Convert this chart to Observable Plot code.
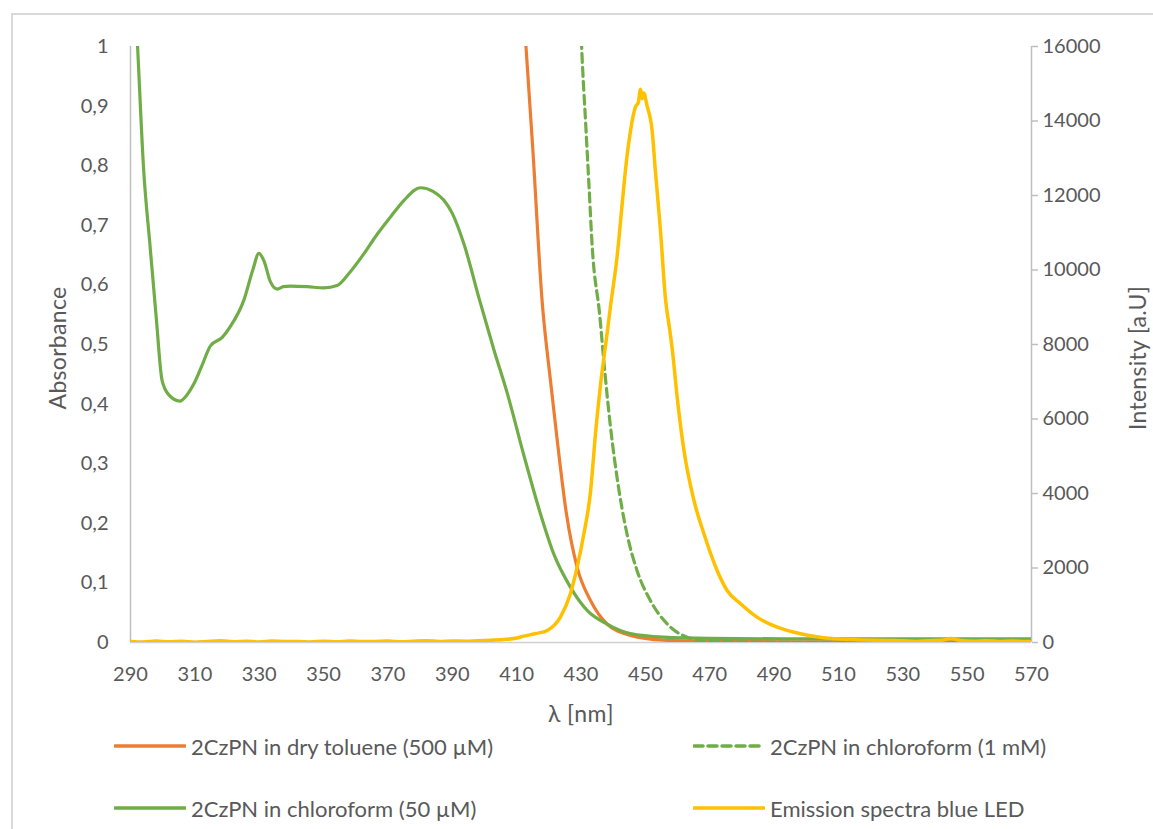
<!DOCTYPE html>
<html>
<head>
<meta charset="utf-8">
<script src="https://cdn.jsdelivr.net/npm/d3@7"></script>
<script src="https://cdn.jsdelivr.net/npm/@observablehq/plot@0.6"></script>
<style>
  html, body { margin: 0; padding: 0; background: #fff; overflow: hidden; }
  #wrap { position: relative; width: 1153px; height: 829px; font-family: Lato, "Open Sans", sans-serif; color: #595959; }
  #border { position: absolute; left: 11px; top: 13px; width: 1300px; height: 1000px; border-left: 2px solid #d9d9d9; border-top: 2px solid #d9d9d9; }
  #chart { position: absolute; left: 0; top: 0; }
  .atitle { position: absolute; font-size: 23px; white-space: nowrap; letter-spacing: 0.3px; }
  .leg { position: absolute; font-size: 22px; white-space: nowrap; display: flex; align-items: center; }
  .leg svg { margin-right: 5px; }
</style>
</head>
<body>
<div id="wrap">
  <div id="border"></div>
  <div id="chart"></div>
</div>
<script>
// ---- data ----
const xTicks = [290, 310, 330, 350, 370, 390, 410, 430, 450, 470, 490, 510, 530, 550, 570];
const yTicks = [0, 0.1, 0.2, 0.3, 0.4, 0.5, 0.6, 0.7, 0.8, 0.9, 1];
const y2Ticks = [0, 2000, 4000, 6000, 8000, 10000, 12000, 14000, 16000];

const seriesNames = ["2CzPN in dry toluene (500 µM)", "2CzPN in chloroform (1 mM)", "2CzPN in chloroform (50 µM)", "Emission spectra blue LED"];

// 2CzPN in dry toluene (500 µM) – absorbance
const tolWl  = [411, 412.9, 415, 417.9, 420.5, 422.6, 425.5, 428.8, 433.0, 438.1, 445.4, 455.7, 470, 500, 570];
const tolAbs = [1.17, 1.0, 0.83, 0.574, 0.44, 0.34, 0.215, 0.126, 0.07, 0.031, 0.012, 0.004, 0.002, 0.001, 0.001];

// 2CzPN in chloroform (1 mM) – absorbance
const c1Wl  = [429, 430.2, 431.4, 432.4, 433.5, 435.8, 437.3, 439.2, 441.2, 444.3, 447.4, 451.6, 456.8, 463.0, 470, 500, 570];
const c1Abs = [1.2, 1.0, 0.876, 0.775, 0.663, 0.55, 0.46, 0.36, 0.277, 0.182, 0.121, 0.07, 0.031, 0.009, 0.002, 0.0, 0.0];

// 2CzPN in chloroform (50 µM) – absorbance
const c50Wl  = [291, 292.2, 294.1, 296, 298, 299.8, 302, 305.3, 307.5, 309.7, 312, 314.9, 318.5, 321, 325.2, 328, 329.9, 331.5, 333.5, 335.6, 337.5, 339.7, 344.9, 350.1, 354.2, 358, 362.5, 366, 370.8, 375, 380.1, 384, 387.4, 390, 393.6, 398.5, 403, 407.1, 412.2, 417.4, 421.5, 426.7, 431.9, 438.1, 445.4, 455.7, 470, 500, 530, 570];
const c50Abs = [1.13, 1.0, 0.792, 0.67, 0.545, 0.44, 0.415, 0.405, 0.415, 0.434, 0.462, 0.498, 0.512, 0.53, 0.574, 0.625, 0.653, 0.64, 0.605, 0.593, 0.597, 0.598, 0.597, 0.595, 0.599, 0.62, 0.652, 0.68, 0.714, 0.742, 0.763, 0.757, 0.742, 0.72, 0.669, 0.574, 0.49, 0.418, 0.315, 0.216, 0.149, 0.093, 0.054, 0.031, 0.015, 0.009, 0.007, 0.006, 0.006, 0.006];

// Emission spectra blue LED – intensity [a.U]
const ledWl  = [290, 294, 298, 302, 306, 310, 314, 318, 322, 326, 330, 334, 338, 342, 346, 350, 354, 358, 362, 366, 370, 374, 378, 382, 386, 390, 394, 398, 402, 406,
                410, 412.2, 416, 419.5, 423.6, 426.7, 428.8, 430.9, 433.0, 434.5, 436.1, 438.1, 439.2, 441.2, 442.8, 443.8, 445.4, 446.9, 447.8, 448.5, 449.0, 449.5, 450.5, 452.1, 453.1, 454.7, 456.2, 457.6, 458.4, 460.0, 462.0, 465.1, 468.2, 472.3, 475.4, 479.6, 484.7, 491.0, 498.2, 505.4, 515.8, 526.2,
                530, 534, 538, 542, 545, 548, 552, 556, 560, 564, 568, 570];
const ledInt = [30, 15, 40, 20, 35, 10, 30, 45, 20, 35, 15, 40, 25, 30, 15, 35, 20, 40, 25, 30, 40, 20, 35, 45, 30, 40, 35, 50, 60, 80,
                120, 170, 240, 322, 680, 1308, 2022, 2918, 4081, 5603, 6946, 8288, 9050, 10345, 11779, 12673, 13747, 14373, 14500, 14850, 14600, 14750, 14418, 13747, 12673, 11062, 9271, 8377, 7840, 6498, 5155, 3813, 2918, 1933, 1396, 1039, 680, 411, 233, 125, 72, 54,
                45, 30, 50, 60, 110, 55, 35, 45, 30, 40, 25, 30];

const Y2MAX = 16000;

const colors = ["#ED7D31", "#70AD47", "#70AD47", "#FFC000"];
const dash = "9,5";

const tol = tolWl.map((x, i) => ({x, y: tolAbs[i]}));
const c1 = c1Wl.map((x, i) => ({x, y: c1Abs[i]}));
const c50 = c50Wl.map((x, i) => ({x, y: c50Abs[i]}));
const led = ledWl.map((x, i) => ({x, v: ledInt[i]}));

const fmt = d => String(d).replace(".", ",");
const axisColor = "#bfbfbf";

const plot = Plot.plot({
  width: 1153,
  height: 722,
  marginLeft: 130,
  marginRight: 122,
  marginTop: 46,
  marginBottom: 80,
  style: {fontFamily: "Lato, 'Open Sans', sans-serif", fontSize: "20px", color: "#595959", background: "transparent", overflow: "visible"},
  x: {domain: [290, 570]},
  y: {domain: [0, 1]},
  marks: [
    Plot.axisX(xTicks, {tickSize: 0, tickPadding: 24, label: null, tickFormat: d => String(d)}),
    Plot.axisY(yTicks, {anchor: "left", tickSize: 0, tickPadding: 22, label: null, tickFormat: fmt}),
    Plot.axisY(y2Ticks.map(d => d / Y2MAX), {anchor: "right", tickSize: 6, tickPadding: 5, stroke: axisColor, strokeWidth: 1.5, label: null, tickFormat: d => String(Math.round(d * Y2MAX))}),
    Plot.ruleX([290], {stroke: axisColor, strokeWidth: 1.5}),
    Plot.ruleX([570], {stroke: axisColor, strokeWidth: 1.5}),
    Plot.ruleY([0], {stroke: "#d0d0d0", strokeWidth: 1.5}),
    Plot.line(tol, {x: "x", y: "y", stroke: colors[0], strokeWidth: 3.2, curve: "monotone-x", clip: true}),
    Plot.line(c1, {x: "x", y: "y", stroke: colors[1], strokeWidth: 3.2, strokeDasharray: dash, curve: "monotone-x", clip: true}),
    Plot.line(c50, {x: "x", y: "y", stroke: colors[2], strokeWidth: 3.2, curve: "monotone-x", clip: true}),
    Plot.line(led, {x: "x", y: d => d.v / Y2MAX, stroke: colors[3], strokeWidth: 3.5, curve: "monotone-x", clip: true})
  ]
});
document.getElementById("chart").appendChild(plot);

const wrap = document.getElementById("wrap");
function addTitle(text, left, top, rotate) {
  const d = document.createElement("div");
  d.className = "atitle";
  d.textContent = text;
  d.style.left = left + "px";
  d.style.top = top + "px";
  if (rotate) { d.style.transform = "translate(-50%, -50%) rotate(-90deg)"; }
  else { d.style.transform = "translate(-50%, -50%)"; }
  wrap.appendChild(d);
}
addTitle("λ [nm]", 581, 713, false);
addTitle("Absorbance", 57, 348, true);
addTitle("Intensity [a.U]", 1137, 358, true);

const legPos = [[114, 746], [693, 746], [114, 808], [693, 808]];
seriesNames.forEach((name, i) => {
  const d = document.createElement("div");
  d.className = "leg";
  d.style.left = legPos[i][0] + "px";
  d.style.top = (legPos[i][1] - 15) + "px";
  d.style.height = "30px";
  const dashAttr = i === 1 ? `stroke-dasharray="9,5"` : "";
  d.innerHTML = `<svg width="72" height="8"><line x1="1" y1="4" x2="71" y2="4" stroke="${colors[i]}" stroke-width="3.5" stroke-linecap="round" ${dashAttr}/></svg><span>${name}</span>`;
  wrap.appendChild(d);
});
</script>
</body>
</html>
